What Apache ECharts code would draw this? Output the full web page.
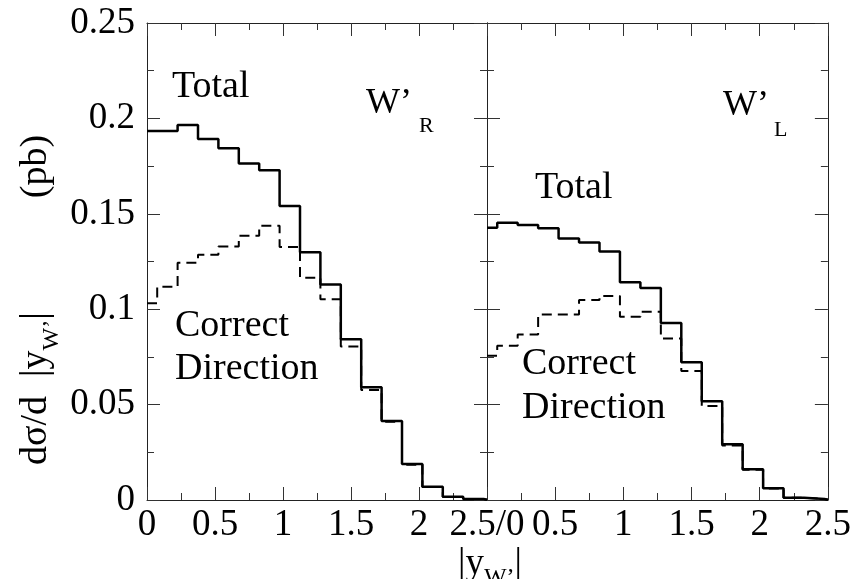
<!DOCTYPE html>
<html>
<head>
<meta charset="utf-8">
<script src="https://cdn.jsdelivr.net/npm/echarts@6/dist/echarts.min.js"></script>
<style>
html,body{margin:0;padding:0;background:#fff;}
#chart{width:854px;height:579px;}
</style>
</head>
<body>
<div id="chart"></div>
<script>
// Bin edges of the |y_W'| histograms (bins of width 0.15 centred on multiples of 0.15, clipped to [0, 2.5])
const binEdges = [0, 0.075, 0.225, 0.375, 0.525, 0.675, 0.825, 0.975, 1.125, 1.275, 1.425, 1.575, 1.725, 1.875, 2.025, 2.175, 2.325, 2.475, 2.5];

// W'_R panel (pb)
const totalR   = [0.1934, 0.1934, 0.1965, 0.1892, 0.1843, 0.1763, 0.1728, 0.1541, 0.1298, 0.1130, 0.0842, 0.0591, 0.0414, 0.0189, 0.0070, 0.0017, 0.0005, 0.0001];
const correctR = [0.1031, 0.1118, 0.1244, 0.1286, 0.1328, 0.1385, 0.1438, 0.1326, 0.1165, 0.1052, 0.0804, 0.0577, 0.0410, 0.0185, 0.0068, 0.0016, 0.0005, 0.0001];

// W'_L panel (pb)
const totalL   = [0.1427, 0.1453, 0.1441, 0.1424, 0.1370, 0.1349, 0.1303, 0.1141, 0.1111, 0.0928, 0.0722, 0.0517, 0.0292, 0.0161, 0.0061, 0.0012, 0.0005, 0.0001];
const correctL = [0.0756, 0.0809, 0.0868, 0.0972, 0.0972, 0.1048, 0.1069, 0.0961, 0.0987, 0.0847, 0.0676, 0.0493, 0.0285, 0.0158, 0.0060, 0.0012, 0.0005, 0.0001];

// Axis settings
const xMin = 0, xMax = 2.5, xStep = 0.5;
const yMin = 0, yMax = 0.25, yStep = 0.05;

function stepData(vals) {
  const d = vals.map((v, i) => [binEdges[i], v]);
  d.push([binEdges[binEdges.length - 1], vals[vals.length - 1]]);
  return d;
}

const FONT = '"Liberation Serif", "Times New Roman", serif';
const frame = {show: true, onZero: false, lineStyle: {color: '#222', width: 1}};
const tick = {show: true, inside: true, length: 13, lineStyle: {color: '#333', width: 1}};
const minor = {show: true, splitNumber: 2, length: 7, lineStyle: {color: '#333', width: 1}};

function xAxis(grid, pos, labelFmt) {
  return {
    type: 'value', gridIndex: grid, position: pos, min: xMin, max: xMax, interval: xStep,
    axisLine: frame, axisTick: tick, minorTick: minor, splitLine: {show: false},
    axisLabel: labelFmt ? {show: true, margin: 7, color: '#000', fontSize: 37, fontFamily: FONT, formatter: labelFmt} : {show: false}
  };
}
function yAxis(grid, pos, labels) {
  return {
    type: 'value', gridIndex: grid, position: pos, min: yMin, max: yMax, interval: yStep,
    axisLine: frame, axisTick: tick, minorTick: minor, splitLine: {show: false},
    axisLabel: labels ? {show: true, margin: 12, color: '#000', fontSize: 37, fontFamily: FONT} : {show: false}
  };
}

function histo(data, xi, yi, dashed) {
  return {
    type: 'line', xAxisIndex: xi, yAxisIndex: yi, step: 'end', data: stepData(data),
    showSymbol: false, symbol: 'none', silent: true, z: dashed ? 2 : 3,
    lineStyle: dashed ? {color: '#000', width: 2, type: [10, 6]} : {color: '#000', width: 2.5}
  };
}

function txt(x, y, s, size) {
  return {type: 'text', x: x, y: y, silent: true,
    style: {text: s, fill: '#000', font: size + 'px ' + FONT, align: 'left', verticalAlign: 'middle'}};
}

const chart = echarts.init(document.getElementById('chart'), null, {renderer: 'canvas'});
chart.setOption({
  backgroundColor: '#fff',
  animation: false,
  grid: [
    {left: 147, top: 23, width: 340, height: 477},
    {left: 487, top: 23, width: 341, height: 477}
  ],
  xAxis: [
    xAxis(0, 'bottom', v => (v === 2.5 ? '2.5/0' : String(v))),
    xAxis(0, 'top', null),
    xAxis(1, 'bottom', v => (v === 0 ? '' : String(v))),
    xAxis(1, 'top', null)
  ],
  yAxis: [
    yAxis(0, 'left', true),
    yAxis(0, 'right', false),
    yAxis(1, 'left', false),
    yAxis(1, 'right', false)
  ],
  series: [
    histo(correctR, 0, 0, true),
    histo(totalR, 0, 0, false),
    histo(correctL, 2, 2, true),
    histo(totalL, 2, 2, false)
  ],
  graphic: [
    txt(172, 87, 'Total', 38),
    txt(366, 104, 'W\u2019', 36),
    txt(419, 126, 'R', 22),
    txt(175, 326, 'Correct', 38),
    txt(175, 369, 'Direction', 38),
    txt(535, 188, 'Total', 38),
    txt(723, 106, 'W\u2019', 36),
    txt(774, 130, 'L', 22),
    txt(522, 364, 'Correct', 38),
    txt(522, 408, 'Direction', 38),
    {
      type: 'text', x: 490, y: 564, silent: true,
      style: {
        text: '{m||y}{s|W\u2019}{m||}', align: 'center', verticalAlign: 'middle',
        rich: {
          m: {fontSize: 37, fontFamily: FONT, lineHeight: 52, fill: '#000'},
          s: {fontSize: 24, fontFamily: FONT, lineHeight: 24, verticalAlign: 'bottom', fill: '#000'}
        }
      }
    },
    {
      type: 'text', x: 36, y: 300, rotation: Math.PI / 2, silent: true,
      style: {
        text: '{m|d\u03c3/d  |y}{s|W\u2019}{m||            (pb)}', align: 'center', verticalAlign: 'middle',
        rich: {
          m: {fontSize: 38, fontFamily: FONT, lineHeight: 56, fill: '#000'},
          s: {fontSize: 24, fontFamily: FONT, lineHeight: 24, verticalAlign: 'bottom', fill: '#000'}
        }
      }
    }
  ]
});
</script>
</body>
</html>
